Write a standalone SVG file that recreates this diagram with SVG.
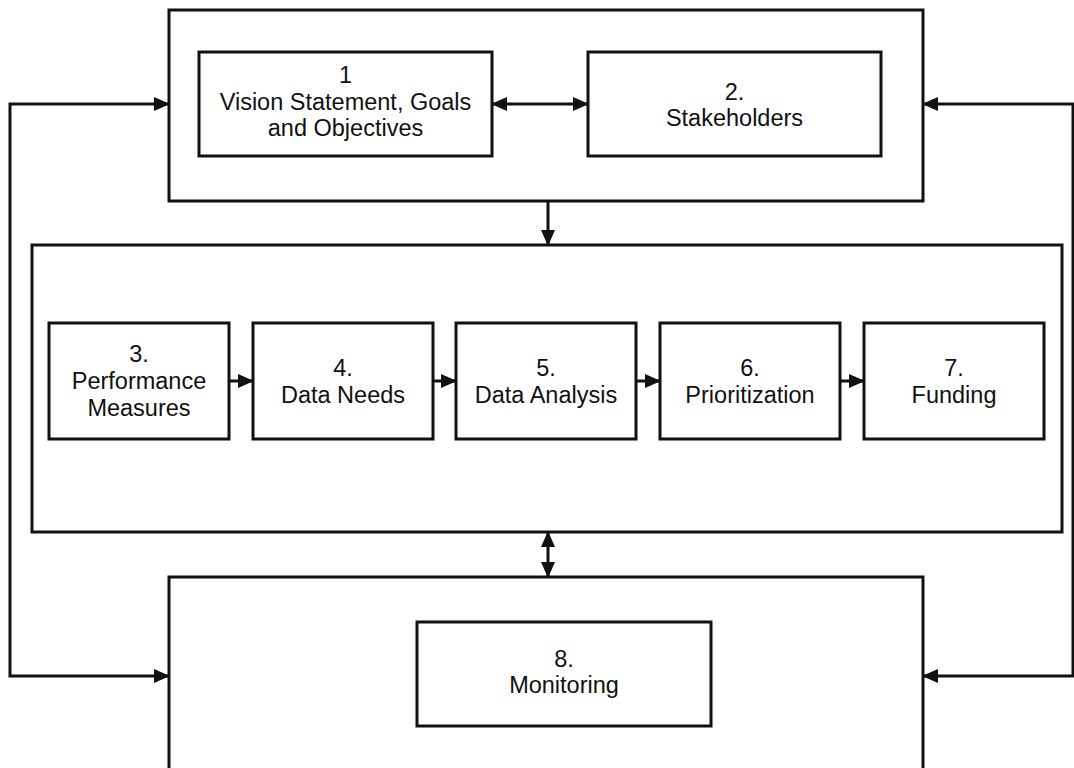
<svg xmlns="http://www.w3.org/2000/svg" width="1074" height="768" viewBox="0 0 1074 768">
<style>
.box{fill:#fff;stroke:#111;stroke-width:3}
.con{fill:none;stroke:#111;stroke-width:3}
text{font-family:"Liberation Sans",Arial,sans-serif;font-size:23.5px;fill:#111;text-anchor:middle}
</style>
<defs>
<marker id="ah" viewBox="0 0 16 16" refX="15" refY="8" markerWidth="16" markerHeight="16" markerUnits="userSpaceOnUse" orient="auto-start-reverse">
<path d="M0,1 L16,8 L0,15 z" fill="#111"/>
</marker>
</defs>
<rect width="1074" height="768" fill="#fff"/>
<g id="top-group"><rect class="box" x="169" y="10" width="754" height="191"/></g>
<g id="middle-group"><rect class="box" x="32" y="245" width="1030" height="287"/></g>
<g id="bottom-group"><rect class="box" x="169" y="577" width="754" height="220"/></g>
<g id="node1"><rect class="box" x="199" y="52" width="293" height="104"/>
<text x="345.5" y="83">1</text><text x="345.5" y="110">Vision Statement, Goals</text><text x="345.5" y="136">and Objectives</text></g>
<g id="node2"><rect class="box" x="588" y="52" width="293" height="104"/>
<text x="734.5" y="100">2.</text><text x="734.5" y="126">Stakeholders</text></g>
<g id="node3"><rect class="box" x="49" y="323" width="180" height="116"/>
<text x="139" y="362">3.</text><text x="139" y="389">Performance</text><text x="139" y="416">Measures</text></g>
<g id="node4"><rect class="box" x="253" y="323" width="180" height="116"/>
<text x="343" y="376">4.</text><text x="343" y="403">Data Needs</text></g>
<g id="node5"><rect class="box" x="456" y="323" width="180" height="116"/>
<text x="546" y="376">5.</text><text x="546" y="403">Data Analysis</text></g>
<g id="node6"><rect class="box" x="660" y="323" width="180" height="116"/>
<text x="750" y="376">6.</text><text x="750" y="403">Prioritization</text></g>
<g id="node7"><rect class="box" x="864" y="323" width="180" height="116"/>
<text x="954" y="376">7.</text><text x="954" y="403">Funding</text></g>
<g id="node8"><rect class="box" x="417" y="622" width="294" height="104"/>
<text x="564" y="667">8.</text><text x="564" y="693">Monitoring</text></g>
<g id="connectors">
<path class="con" d="M169,104 H10 V676 H169" marker-start="url(#ah)" marker-end="url(#ah)"/>
<path class="con" d="M923,104 H1073 V676 H923" marker-start="url(#ah)" marker-end="url(#ah)"/>
<path class="con" d="M492,104 H588" marker-start="url(#ah)" marker-end="url(#ah)"/>
<path class="con" d="M548,201 V245" marker-end="url(#ah)"/>
<path class="con" d="M548,532 V577" marker-start="url(#ah)" marker-end="url(#ah)"/>
<path class="con" d="M229,381 H253" marker-end="url(#ah)"/>
<path class="con" d="M433,381 H456" marker-end="url(#ah)"/>
<path class="con" d="M636,381 H660" marker-end="url(#ah)"/>
<path class="con" d="M840,381 H864" marker-end="url(#ah)"/>
</g>
</svg>
